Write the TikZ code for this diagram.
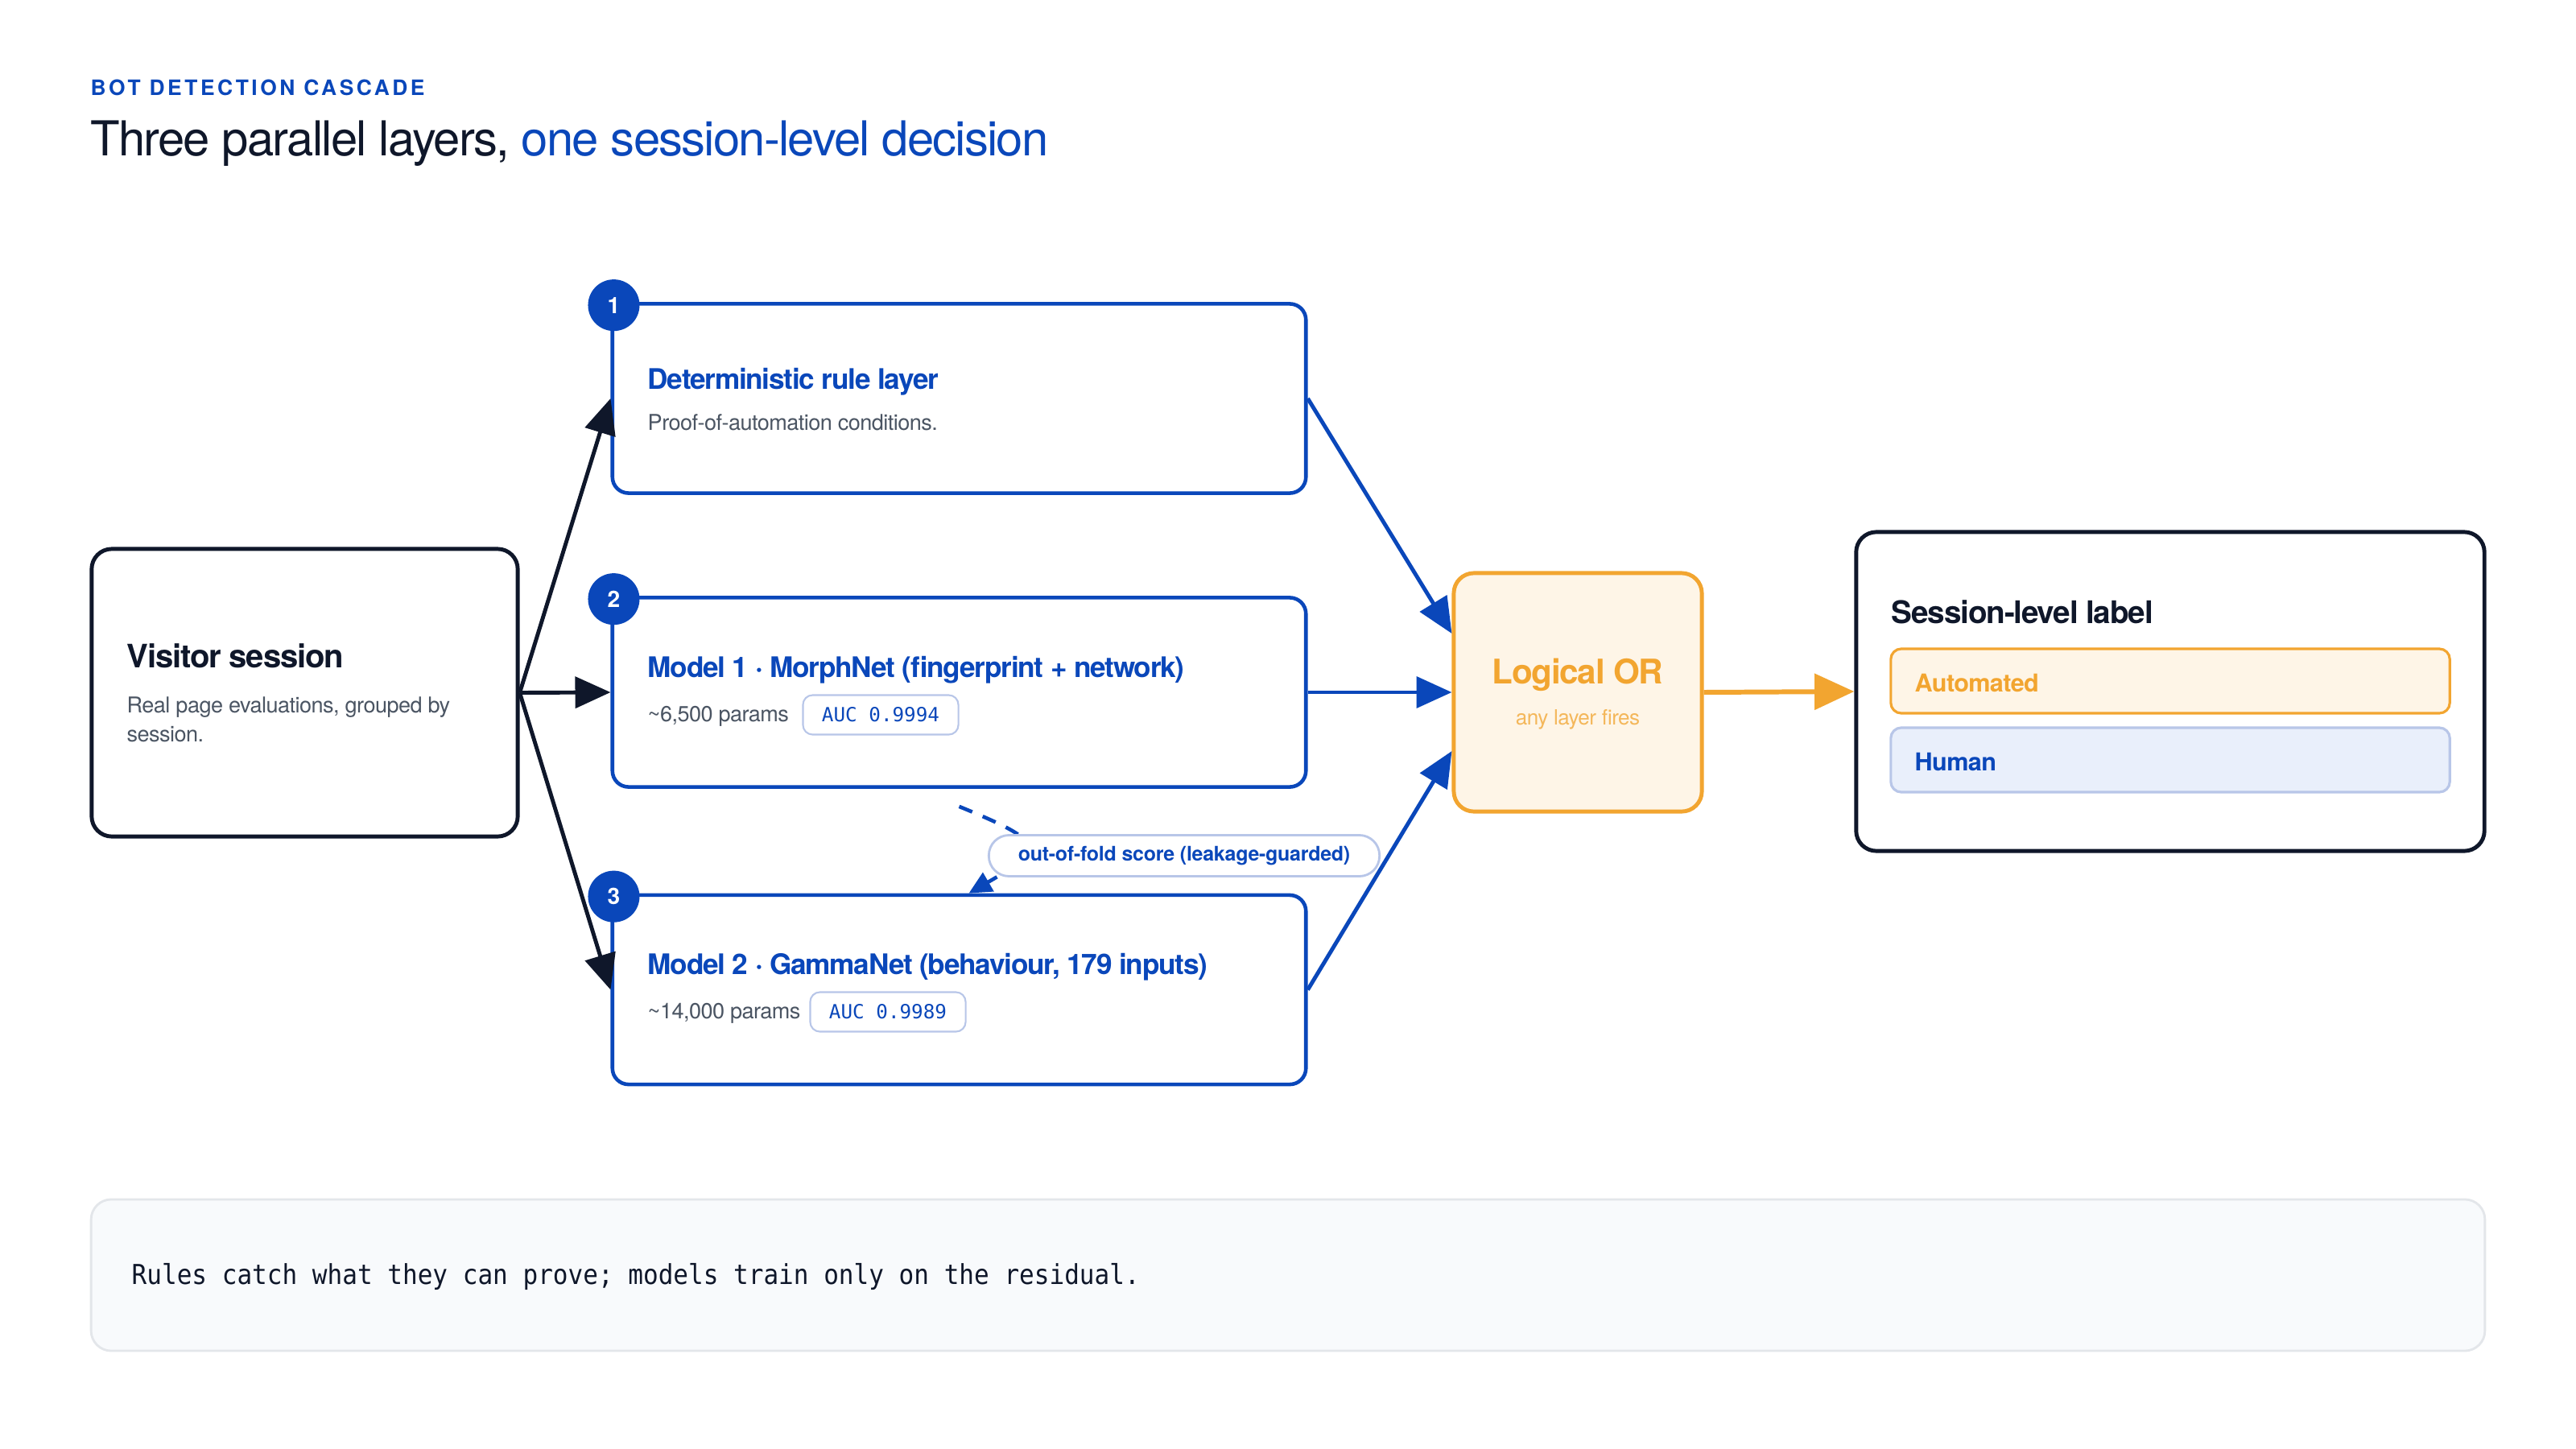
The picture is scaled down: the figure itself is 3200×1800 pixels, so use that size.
\documentclass[tikz,border=0pt]{standalone}
\usepackage{fontspec}
\setmainfont{TeX Gyre Heros}
\setmonofont{DejaVu Sans Mono}
\usetikzlibrary{arrows.meta}
\definecolor{navy}{HTML}{0F172A}
\definecolor{blu}{HTML}{0A47BA}
\definecolor{org}{HTML}{F2A530}
\definecolor{orglt}{HTML}{F4B75A}
\definecolor{orgfill}{HTML}{FEF5E7}
\definecolor{gry}{HTML}{4B5563}
\definecolor{pillb}{HTML}{B8C6E8}
\definecolor{humfill}{HTML}{E9EFFB}
\definecolor{footfill}{HTML}{F8FAFC}
\definecolor{footline}{HTML}{E3E6EA}
\newcommand\setfs[1]{\fontsize{#1pt}{#1pt}\selectfont}
\tikzset{
  card/.style={draw=navy, line width=1.4pt, rounded corners=0.25cm, fill=white},
  layer/.style={draw=blu, line width=1.3pt, rounded corners=0.2cm, fill=white, minimum width=8.61cm, minimum height=2.35cm},
  badge/.style={circle, fill=blu, text=white, minimum size=0.64cm, inner sep=0pt, font=\bfseries\setfs{8}},
  pill/.style={draw=pillb, line width=0.6pt, rounded corners=0.12cm, fill=white, minimum width=1.93cm, minimum height=0.49cm, inner sep=0pt, font=\ttfamily\setfs{6.9}, text=blu},
  darr/.style={draw=navy, line width=1.4pt, -{Triangle[length=12.5pt,width=11pt]}},
  barr/.style={draw=blu, line width=1.4pt, -{Triangle[length=12.5pt,width=11pt]}},
  oarr/.style={draw=org, line width=1.7pt, -{Triangle[length=14pt,width=12.5pt]}},
  dsharr/.style={draw=blu, line width=1.3pt, dash pattern=on 5pt off 4pt, -{Triangle[length=8pt,width=7.5pt]}},
  txt/.style={anchor=west, inner sep=0pt},
  ttl/.style={txt, text=blu, font=\bfseries\setfs{10}\addfontfeature{LetterSpace=-3.5}},
  sub/.style={txt, text=gry, font=\setfs{7.7}\addfontfeature{LetterSpace=-2}},
}
\begin{document}
\begin{tikzpicture}[x=0.01cm, y=-0.01cm]
\path[use as bounding box, fill=white] (0,0) rectangle (3200,1800);

% heading
\node[txt, text=blu, font=\bfseries\setfs{7.5}\addfontfeature{LetterSpace=13.5}] (kicker) at (112,109) {BOT DETECTION CASCADE};
\node[txt, text=navy, font=\setfs{17}\addfontfeature{LetterSpace=-3}] (title) at (112,178) {Three parallel layers, {\color{blu}one session-level decision}};

% visitor
\node[card, minimum width=5.29cm, minimum height=3.57cm] (vis) at (378.5,860.5) {};
\node[txt, text=navy, font=\bfseries\setfs{11.4}\addfontfeature{LetterSpace=-3}] (vist) at (157,815) {Visitor session};
\node[sub, align=left, font=\setfs{7.7}\linespread{1.35}\selectfont\addfontfeature{LetterSpace=-2}] (viss) at (157,894) {Real page evaluations, grouped by\\session.};

% layers
\node[layer] (l1) at (1191.5,495) {};
\node[layer] (l2) at (1191.5,860) {};
\node[layer] (l3) at (1191.5,1229.5) {};
\node[badge] (b1) at ([shift={(0.04cm,-0.04cm)}]l1.north west) {1};
\node[badge] (b2) at ([shift={(0.04cm,-0.04cm)}]l2.north west) {2};
\node[badge] (b3) at ([shift={(0.04cm,-0.04cm)}]l3.north west) {3};

\node[ttl] (l1t) at (804,474) {Deterministic rule layer};
\node[sub] (l1s) at (804,525) {Proof-of-automation conditions.};

\node[ttl] (l2t) at (804,832) {Model 1 · MorphNet (fingerprint + network)};
\node[sub] (l2s) at (804,890) {\textasciitilde6,500 params};
\node[pill] (l2p) at (1094,888) {AUC 0.9994};

\node[ttl] (l3t) at (804,1201) {Model 2 · GammaNet (behaviour, 179 inputs)};
\node[sub] (l3s) at (804,1259) {\textasciitilde14,000 params};
\node[pill] (l3p) at (1103,1257) {AUC 0.9989};

% OR
\node[draw=org, fill=orgfill, line width=1.4pt, rounded corners=0.25cm, minimum width=3.08cm, minimum height=2.96cm] (or) at (1960,860) {};
\node[inner sep=0pt, text=org, font=\bfseries\setfs{12}\addfontfeature{LetterSpace=-3}] (ort) at (1960,838) {Logical OR};
\node[inner sep=0pt, text=orglt, font=\setfs{7.4}\addfontfeature{LetterSpace=-2}] (ors) at (1960,894) {any layer fires};

% session label
\node[card, minimum width=7.80cm, minimum height=3.96cm] (lab) at (2696,859) {};
\node[txt, text=navy, font=\bfseries\setfs{11}\addfontfeature{LetterSpace=-3}] (labt) at (2349,760) {Session-level label};
\node[draw=org, fill=orgfill, line width=0.9pt, rounded corners=0.13cm, minimum width=6.94cm, minimum height=0.80cm] (auto) at (2696,846) {};
\node[draw=pillb, fill=humfill, line width=0.9pt, rounded corners=0.13cm, minimum width=6.94cm, minimum height=0.80cm] (hum) at (2696,944) {};
\node[txt, text=org, font=\bfseries\setfs{8.7}\addfontfeature{LetterSpace=-2}] (autot) at (2378,848) {Automated};
\node[txt, text=blu, font=\bfseries\setfs{8.7}\addfontfeature{LetterSpace=-2}] (humt) at (2378,946) {Human};

% connectors
\draw[darr] (vis.east) -- (l1.west);
\draw[darr] (vis.east) -- (l2.west);
\draw[darr] (vis.east) -- (l3.west);
\draw[barr] (l1.east) -- ([yshift=0.73cm]or.west);
\draw[barr] (l2.east) -- (or.west);
\draw[barr] (l3.east) -- ([yshift=-0.73cm]or.west);
\draw[oarr] (or.east) -- (lab.west);

\coordinate (dstart) at ([yshift=-0.22cm]l2.south);
\coordinate (dend) at ([xshift=0.12cm]l3.north);
\draw[dsharr] (dstart) .. controls +(110,45) and +(95,-55) .. (dend);
\node[draw=pillb, fill=white, line width=0.8pt, rounded corners=0.25cm, minimum width=4.85cm, minimum height=0.51cm, inner sep=0pt, text=blu, font=\bfseries\setfs{7.1}\addfontfeature{LetterSpace=-1}] (oof) at (1471,1063) {out-of-fold score (leakage-guarded)};

% footer
\node[draw=footline, fill=footfill, line width=0.8pt, rounded corners=0.25cm, minimum width=29.72cm, minimum height=1.88cm] (foot) at (1600,1584) {};
\node[txt, text=navy, font=\ttfamily\setfs{9.7}\addfontfeature{FakeStretch=0.91}] (foott) at (163,1586) {Rules catch what they can prove; models train only on the residual.};
\end{tikzpicture}
\end{document}
